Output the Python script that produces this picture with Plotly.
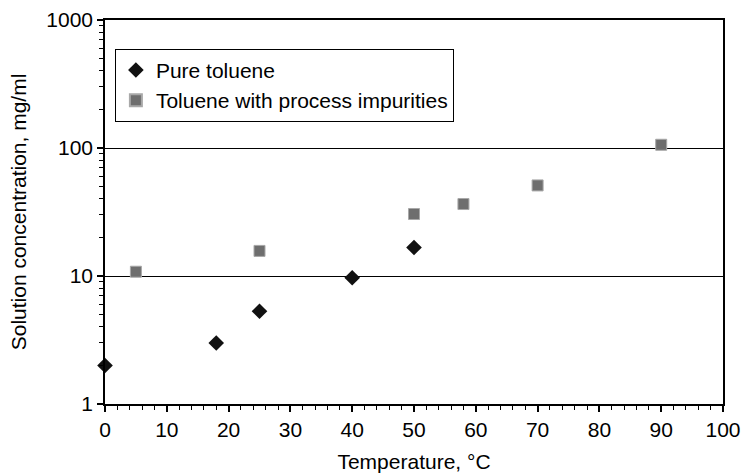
import plotly.graph_objects as go

pure_x = [0, 18, 25, 40, 50]
pure_y = [2.0, 3.0, 5.3, 9.7, 16.7]
imp_x = [5, 25, 50, 58, 70, 90]
imp_y = [10.8, 15.7, 30.5, 36.5, 51, 106]

x_title = "Temperature, °C"
y_title = "Solution concentration, mg/ml"
y_ticks = [1, 10, 100, 1000]
y_ticklabels = ["1", "10", "100", "1000"]
y_minor = [m * d for d in (1, 10, 100) for m in range(2, 10)]

font = "Liberation Sans, Arial, sans-serif"

fig = go.Figure()
fig.add_trace(go.Scatter(
    x=pure_x, y=pure_y, mode="markers", name="Pure toluene",
    marker=dict(symbol="diamond", size=12, color="#111111", line=dict(width=0)),
    cliponaxis=False,
))
fig.add_trace(go.Scatter(
    x=imp_x, y=imp_y, mode="markers", name="Toluene with process impurities",
    marker=dict(symbol="square", size=11, color="#6e6e6e", line=dict(width=1, color="#a8a8a8")),
    cliponaxis=False,
))

fig.update_layout(
    width=742, height=473,
    margin=dict(l=105, r=19, t=20, b=69),
    paper_bgcolor="white", plot_bgcolor="white",
    font=dict(family=font, size=21, color="black"),
    showlegend=True,
    legend=dict(
        x=0.016, y=0.925, xanchor="left", yanchor="top",
        bgcolor="white", bordercolor="black", borderwidth=1,
        font=dict(size=21), tracegroupgap=0, itemsizing="constant",
    ),
    xaxis=dict(
        range=[0, 100], dtick=10, tick0=0, automargin=False,
        showline=True, linecolor="black", linewidth=1.5, mirror=True,
        ticks="outside", ticklen=6, tickcolor="black", tickwidth=1.5,
        showgrid=False, zeroline=False,
        minor=dict(dtick=2, ticks="outside", ticklen=4, tickcolor="black", tickwidth=1),
        title=dict(text=x_title, font=dict(size=21), standoff=18),
        tickfont=dict(size=21),
    ),
    yaxis=dict(
        type="log", range=[0, 3], automargin=False,
        tickvals=y_ticks, ticktext=y_ticklabels,
        showline=True, linecolor="black", linewidth=1.5, mirror=True,
        ticks="outside", ticklen=6, tickcolor="black", tickwidth=1.5,
        showgrid=True, gridcolor="black", gridwidth=1,
        zeroline=False,
        minor=dict(tickvals=y_minor, ticks="outside", ticklen=4, tickcolor="black",
                   tickwidth=1, showgrid=False),
        title=dict(text=y_title, font=dict(size=21), standoff=14),
        tickfont=dict(size=21),
    ),
)

fig.write_html("out.html")
